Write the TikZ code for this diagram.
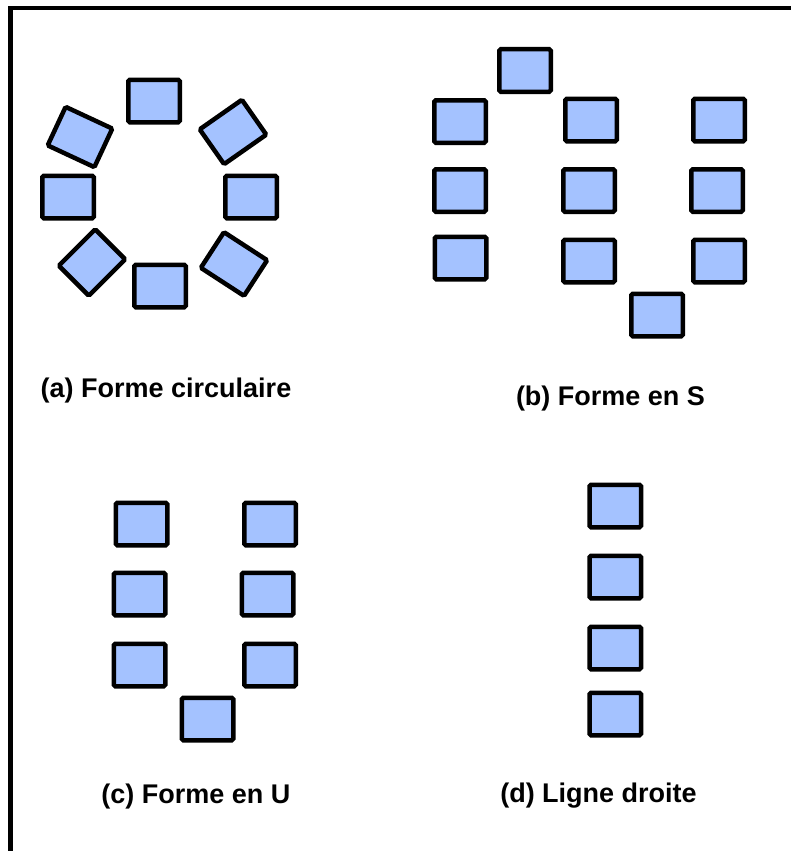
\documentclass[tikz,border=0pt]{standalone}
\usepackage{fontspec}
\setmainfont{Liberation Sans}
\usepackage{tikz}
\definecolor{bleuclair}{RGB}{164,194,255}
\tikzset{bloc/.style={draw=black, fill=bleuclair, line width=4.5pt, rounded corners=1.5pt, minimum width=51.5pt, minimum height=42.5pt, inner sep=0pt},
	legende/.style={font=\fontsize{27}{30}\selectfont\bfseries, anchor=base, inner sep=0pt}}

\begin{document}
\begin{tikzpicture}[x=1pt,y=-1pt]
		\useasboundingbox (0,0) rectangle (791,851);
		\draw[line width=4.5pt] (10.3,851) |- (791,8);
		
		% (a) cercle
		\node[bloc] (a1) at (154,101) {};
		\node[bloc,rotate=35] (a2) at (233,132) {};
		\node[bloc] (a3) at (251,197) {};
		\node[bloc,rotate=-33] (a4) at (234,264) {};
		\node[bloc] (a5) at (160,286) {};
		\node[bloc,rotate=45] (a6) at (92,262.5) {};
		\node[bloc] (a7) at (68,197) {};
		\node[bloc,rotate=-25] (a8) at (80,137) {};
		\node[legende] (la) at (166,397) {(a) Forme circulaire};
		
		% (b) S
		\node[bloc] (b1) at (525,70.5) {};
		\node[bloc] (b2) at (460,121.5) {};
		\node[bloc] (b3) at (591,120) {};
		\node[bloc] (b4) at (719,120) {};
		\node[bloc] (b5) at (460,190.5) {};
		\node[bloc] (b6) at (589,190.5) {};
		\node[bloc] (b7) at (717,190.5) {};
		\node[bloc] (b8) at (460.5,258) {};
		\node[bloc] (b9) at (589,261) {};
		\node[bloc] (b10) at (719,261) {};
		\node[bloc] (b11) at (657,315) {};
		\node[legende] (lb) at (610.5,405) {(b) Forme en S};
		
		% (c) U
		\node[bloc] (c1) at (141.5,524) {};
		\node[bloc] (c2) at (270,524) {};
		\node[bloc] (c3) at (139.5,594) {};
		\node[bloc] (c4) at (267.5,594) {};
		\node[bloc] (c5) at (139.5,665) {};
		\node[bloc] (c6) at (270,665) {};
		\node[bloc] (c7) at (207.5,719) {};
		\node[legende] (lc) at (196,803) {(c) Forme en U};
		
		% (d) ligne
		\foreach \y [count=\i] in {506,577,648,714}
			\node[bloc] (d\i) at (615.3,\y) {};
		\node[legende] (ld) at (598.5,802) {(d) Ligne droite};
\end{tikzpicture}
\end{document}
